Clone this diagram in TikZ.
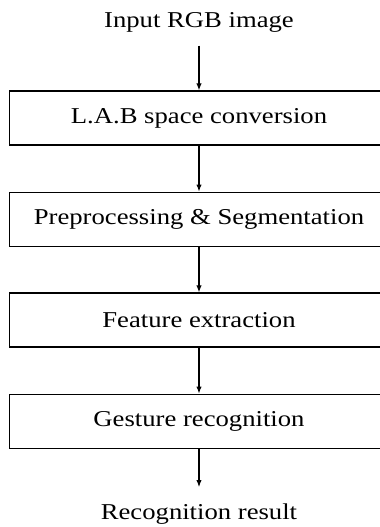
\documentclass[tikz,border=0pt]{standalone}
\usepackage{fontspec}
\setmainfont{Liberation Serif}
\usetikzlibrary{arrows.meta}
\newcommand{\sq}[1]{\scalebox{1}[0.85]{#1}}
\begin{document}
\begin{tikzpicture}[x=0.375pt,y=-0.375pt,
  every node/.style={font=\fontsize{10}{12}\selectfont},
  stagebox/.style={draw,line width=0.5pt,rectangle,minimum width=142.1pt,minimum height=20.25pt,inner sep=0pt},
  arr/.style={line width=0.4pt,-{Latex[length=2.6pt,width=2pt]}}]
\clip (0,0) rectangle (380,527);
\node[anchor=base,inner xsep=0pt,inner ysep=4.8pt] (in) at (199,27.3) {\sq{Input RGB image}};
\node[stagebox] (b1) at (199,118) {\sq{L.A.B space conversion}};
\node[stagebox] (b2) at (199,219.2) {\sq{Preprocessing \& Segmentation}};
\node[stagebox] (b3) at (199,320) {\sq{Feature extraction}};
\node[stagebox] (b4) at (199,421.2) {\sq{Gesture recognition}};
\node[anchor=base,inner xsep=0pt,inner ysep=5.9pt] (out) at (199,519) {\sq{Recognition result}};
\draw[arr] (in.south) -- (b1.north);
\draw[arr] (b1) -- (b2);
\draw[arr] (b2) -- (b3);
\draw[arr] (b3) -- (b4);
\draw[arr] (b4.south) -- (b4.south |- out.north);
\end{tikzpicture}
\end{document}
